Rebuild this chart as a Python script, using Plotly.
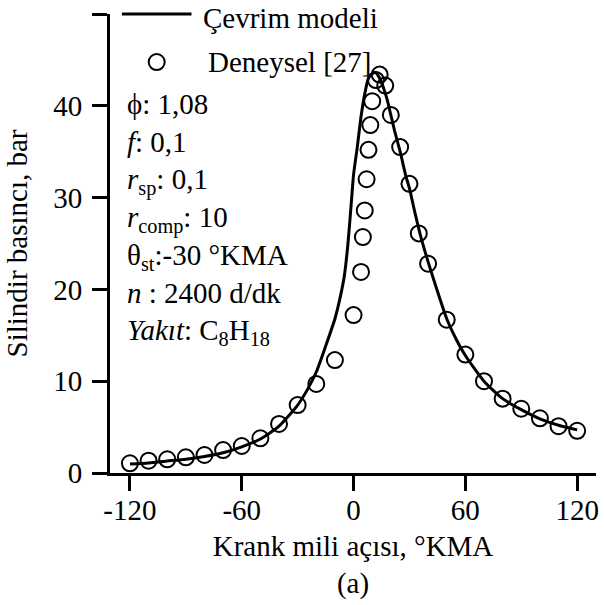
import plotly.graph_objects as go

# ---- data ----
model_angle = [-120, -110, -100, -90, -80, -70, -60, -50, -40, -30, -25, -20, -15, -10, -7, -5, -3, -1, 0,
               2, 4, 6, 8, 10, 12, 14, 16, 18, 20, 22, 25, 28, 30, 33, 36, 40, 45, 50, 55, 60,
               70, 80, 90, 100, 110, 120]
model_pressure = [0.98, 1.1, 1.3, 1.5, 1.8, 2.2, 2.85, 3.7, 5.1, 7.4, 9.0, 11.0, 13.8, 16.8, 19.3, 21.4, 25.0, 30.0, 32.5,
                  35.5, 38.8, 41.3, 43.0, 43.5, 43.6, 43.0, 42.0, 40.7, 39.0, 37.3, 35.0, 32.4, 31.0, 28.3, 25.8, 23.0, 19.8, 16.8, 14.6, 12.8,
                  10.0, 8.1, 6.9, 5.9, 5.2, 4.7]

exp_angle = [-120, -110, -100, -90, -80, -70, -60, -50, -40, -30, -20, -10, 0,
             4, 5, 6, 7, 8, 9, 10, 12, 14, 17, 20, 25, 30, 35, 40,
             50, 60, 70, 80, 90, 100, 110, 120]
exp_pressure = [1.06, 1.34, 1.49, 1.71, 1.96, 2.5, 2.94, 3.78, 5.34, 7.4, 9.7, 12.3, 17.2,
                21.9, 25.7, 28.6, 32.0, 35.2, 37.9, 40.5, 42.8, 43.4, 42.2, 39.0, 35.5, 31.5, 26.1, 22.8,
                16.7, 12.9, 10.0, 8.1, 7.0, 5.96, 5.1, 4.6]

x_ticks = [-120, -60, 0, 60, 120]
y_ticks = [0, 10, 20, 30, 40, 50]

legend_labels = ["Çevrim modeli", "Deneysel [27]"]
info_lines = ["ϕ: 1,08",
              "<i>f</i>: 0,1",
              "<i>r</i><sub>sp</sub>: 0,1",
              "<i>r</i><sub>comp</sub>: 10",
              "θ<sub>st</sub>:-30 °KMA",
              "<i>n</i> : 2400 d/dk",
              "<i>Yakıt</i>: C<sub>8</sub>H<sub>18</sub>"]

FONT = "Liberation Serif, Times New Roman, Times, serif"
FS = 29

fig = go.Figure()
fig.add_trace(go.Scatter(x=model_angle, y=model_pressure, mode="lines",
                         line=dict(color="black", width=3, shape="spline", smoothing=0.6),
                         name=legend_labels[0], showlegend=False))
fig.add_trace(go.Scatter(x=exp_angle, y=exp_pressure, mode="markers",
                         marker=dict(symbol="circle-open", size=16, color="black",
                                     line=dict(width=2, color="black")),
                         name=legend_labels[1], showlegend=False, cliponaxis=False))

# custom legend (layout decoration in paper coords)
fig.add_shape(type="line", xref="paper", yref="paper", x0=0.0245, x1=0.1677, y0=1.0, y1=1.0,
              line=dict(color="black", width=3))
fig.add_shape(type="circle", xref="paper", yref="paper", xsizemode="pixel", ysizemode="pixel",
              xanchor=0.0961, yanchor=0.8954, x0=-8, x1=8, y0=-8, y1=8,
              line=dict(color="black", width=2))
fig.add_annotation(xref="paper", yref="paper", x=0.188, y=0.991, xanchor="left", yanchor="middle",
                   text=legend_labels[0], showarrow=False, font=dict(family=FONT, size=FS, color="black"))
fig.add_annotation(xref="paper", yref="paper", x=0.198, y=0.8954, xanchor="left", yanchor="middle",
                   text=legend_labels[1], showarrow=False, font=dict(family=FONT, size=FS, color="black"))

fig.add_annotation(xref="paper", yref="paper", x=0.03, y=0.553, xanchor="left", yanchor="middle",
                   align="left", text="<br>".join(info_lines), showarrow=False,
                   font=dict(family=FONT, size=FS, color="black"))

fig.update_layout(
    width=604, height=605,
    margin=dict(l=110, r=5, t=14, b=132),
    paper_bgcolor="white", plot_bgcolor="white",
    font=dict(family=FONT, size=FS, color="black"),
    showlegend=False,
)
fig.update_xaxes(range=[-130.7, 130.1], tickvals=x_ticks, ticktext=[str(v) for v in x_ticks],
                 showgrid=False, zeroline=False, showline=True, linecolor="black", linewidth=3,
                 ticks="outside", ticklen=15, tickwidth=3, tickcolor="black",
                 title=dict(text="Krank mili açısı, °KMA<br>(a)", standoff=11,
                            font=dict(family=FONT, size=FS)),
                 tickfont=dict(family=FONT, size=FS), ticklabelstandoff=-6)
fig.update_yaxes(range=[0, 50], tickvals=y_ticks, ticktext=[str(v) for v in y_ticks],
                 showgrid=False, zeroline=False, showline=True, linecolor="black", linewidth=3,
                 ticks="outside", ticklen=15, tickwidth=3, tickcolor="black",
                 title=dict(text="Silindir basıncı, bar", standoff=18,
                            font=dict(family=FONT, size=FS)),
                 tickfont=dict(family=FONT, size=FS), ticklabelstandoff=4)

fig.write_html("out.html")
